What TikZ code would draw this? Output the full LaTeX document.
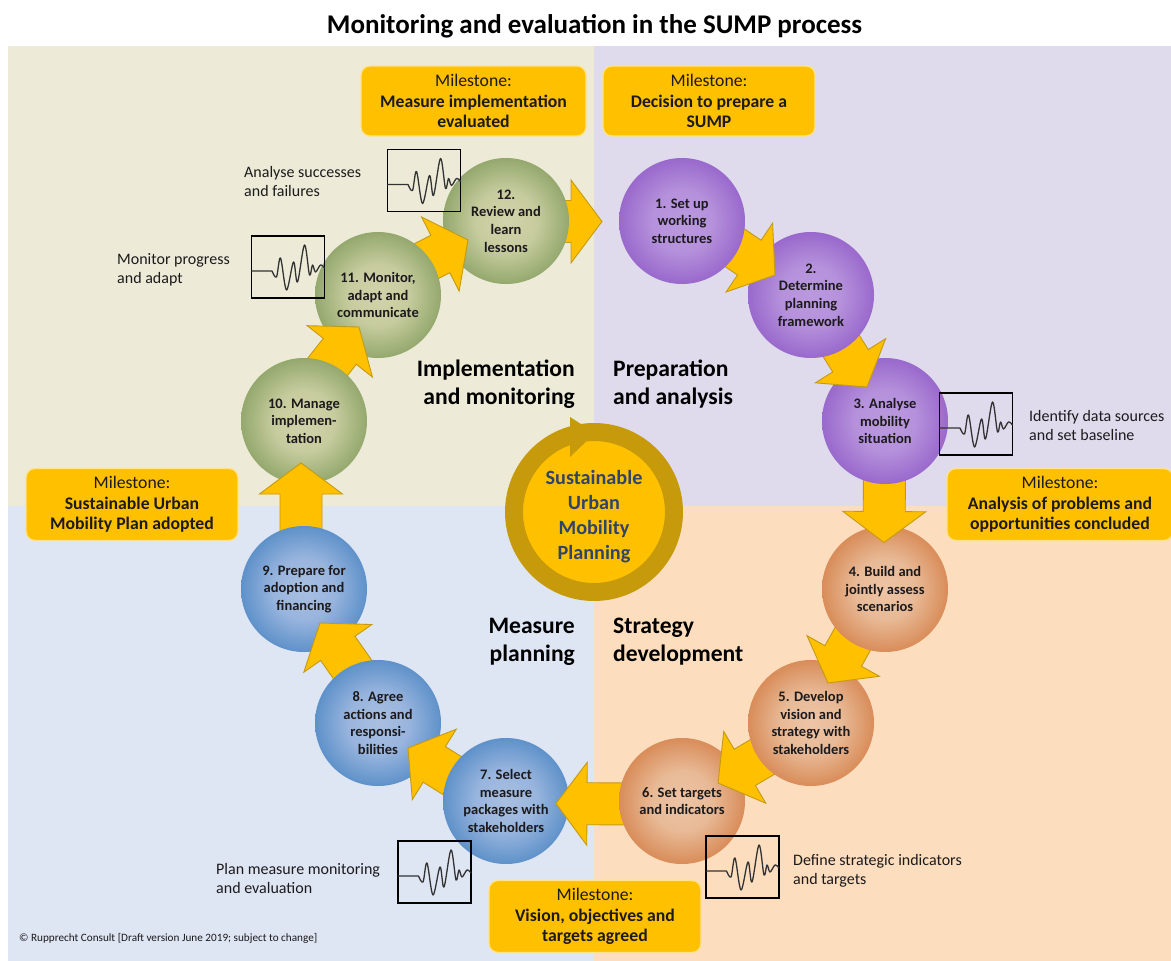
\documentclass[tikz,border=0pt]{standalone}
\usepackage{fontspec}
\setmainfont{Carlito}
\usetikzlibrary{calc}
\definecolor{qtl}{HTML}{EDEBD7}
\definecolor{qtr}{HTML}{DFDBEC}
\definecolor{qbl}{HTML}{DEE5F3}
\definecolor{qbr}{HTML}{FCDDBE}
\definecolor{gold}{HTML}{FFC000}
\definecolor{goldline}{HTML}{C49A12}
\definecolor{ringc}{HTML}{C79A0C}
\definecolor{mileline}{HTML}{FFE28C}
\definecolor{hubtext}{HTML}{2F4468}
\definecolor{ink}{HTML}{1C1A1C}
\pgfdeclareradialshading{purpleball}{\pgfpoint{0bp}{0bp}}{rgb(0bp)=(.73,.60,.87);rgb(12bp)=(.71,.57,.86);rgb(25bp)=(.60,.41,.80);rgb(50bp)=(.60,.41,.80)}
\pgfdeclareradialshading{greenball}{\pgfpoint{0bp}{0bp}}{rgb(0bp)=(.82,.83,.67);rgb(12bp)=(.78,.80,.62);rgb(25bp)=(.58,.66,.43);rgb(50bp)=(.58,.66,.43)}
\pgfdeclareradialshading{orangeball}{\pgfpoint{0bp}{0bp}}{rgb(0bp)=(.93,.77,.65);rgb(12bp)=(.91,.73,.59);rgb(25bp)=(.85,.55,.35);rgb(50bp)=(.85,.55,.35)}
\pgfdeclareradialshading{blueball}{\pgfpoint{0bp}{0bp}}{rgb(0bp)=(.66,.75,.88);rgb(12bp)=(.60,.71,.87);rgb(25bp)=(.37,.57,.79);rgb(50bp)=(.37,.57,.79)}
\tikzset{
  stepnode/.style={circle,minimum size=126pt,inner sep=0pt,align=center,text=ink,
    font=\fontsize{14.5}{17.6}\selectfont\bfseries},
  milestone/.style={rectangle,rounded corners=9pt,fill=gold,draw=mileline,line width=1.3pt,
    minimum height=70pt,inner sep=0pt,align=center,text=ink,font=\fontsize{17.7}{20.5}\selectfont},
  phase/.style={inner sep=0pt,text=black,font=\fontsize{23.6}{28}\selectfont\bfseries},
  note/.style={inner sep=0pt,anchor=west,align=left,text=ink,font=\fontsize{16}{19}\selectfont},
  monbox/.style={rectangle,draw=black,line width=1.1pt,minimum width=73pt,minimum height=62pt,inner sep=0pt},
  blockshape/.style={fill=gold,draw=goldline,line width=.9pt,line join=miter},
  wave/.pic={\draw[line width=1.3pt,draw=black!80,line cap=round,line join=round]
     (-36.5,4) -- (-16,4) plot[smooth,tension=.55] coordinates{(-16,4) (-11.5,10) (-7.5,-9) (-1.5,23) (5.5,-5) (9.5,15) (16.5,-22) (21.5,8) (24.5,-2) (27.5,5) (32.5,-2) (36.5,1)};}
}
\newcommand{\blockarrow}[4]{%
  \coordinate (ta) at ($(#1)+(#2)$);
  \coordinate (tb) at ($(#3)+(#4)$);
  \coordinate (tc) at ($(tb)!31pt!(ta)$);
  \draw[blockshape] ($(ta)!21pt!90:(tb)$) -- ($(tc)!21pt!90:(tb)$) -- ($(tc)!41.5pt!90:(tb)$) -- (tb)
     -- ($(tc)!41.5pt!-90:(tb)$) -- ($(tc)!21pt!-90:(tb)$) -- ($(ta)!21pt!-90:(tb)$) -- cycle;}
\begin{document}
\begin{tikzpicture}[x=1pt,y=-1pt]
\useasboundingbox (0,0) rectangle (1171,961);
\fill[white] (0,0) rectangle (1171,961);
% quadrants
\fill[qtl] (8,46) rectangle (594,506);
\fill[qtr] (594,46) rectangle (1171,506);
\fill[qbl] (8,506) rectangle (594,961);
\fill[qbr] (594,506) rectangle (1171,961);
\node[inner sep=0pt,font=\fontsize{27}{30}\selectfont\bfseries,text=black] (title) at (594.5,26) {Monitoring and evaluation in the SUMP process};
% milestones
\node[milestone,minimum width=225pt] (m1) at (473.5,101) {Milestone:\\\textbf{Measure implementation}\\\textbf{evaluated}};
\node[milestone,minimum width=212pt] (m2) at (709,101) {Milestone:\\\textbf{Decision to prepare a}\\\textbf{SUMP}};
\node[milestone,minimum width=226pt,minimum height=72pt] (m3) at (1060,504.5) {Milestone:\\\textbf{Analysis of problems and}\\\textbf{opportunities concluded}};
\node[milestone,minimum width=212pt,minimum height=72pt] (m4) at (595,916.5) {Milestone:\\\textbf{Vision, objectives and}\\\textbf{targets agreed}};
\node[milestone,minimum width=212pt,minimum height=72pt] (m5) at (132,504.5) {Milestone:\\\textbf{Sustainable Urban}\\\textbf{Mobility Plan adopted}};
% phase labels
\node[phase,anchor=east,align=right] (ph1) at (575,384) {Implementation\\and monitoring};
\node[phase,anchor=west,align=left] (ph2) at (613,384) {Preparation\\and analysis};
\node[phase,anchor=east,align=right] (ph3) at (575,642) {Measure\\planning};
\node[phase,anchor=west,align=left] (ph4) at (613,642) {Strategy\\development};
% hub
\node[circle,fill=gold,draw=ringc,line width=18pt,minimum size=160pt,inner sep=0pt] (hub) at (594,512) {};
\fill[ringc] (570,417) -- (595,433) -- (570,457) -- cycle;
\node[inner sep=0pt,align=center,text=hubtext,font=\fontsize{20.2}{25}\selectfont\bfseries] (hubtext) at (594,517) {Sustainable\\Urban\\Mobility\\Planning};
% step positions
\coordinate (s1) at (682,221);
\coordinate (s2) at (811,295);
\coordinate (s3) at (885,421);
\coordinate (s4) at (885,589);
\coordinate (s5) at (811,723);
\coordinate (s6) at (682,801);
\coordinate (s7) at (506,801);
\coordinate (s8) at (378,723);
\coordinate (s9) at (304,589);
\coordinate (s10) at (304,421);
\coordinate (s11) at (378,295);
\coordinate (s12) at (506,221);
% steps and arrows, stacked so that each arrow lies over its target and under its source
\blockarrow{s12}{34,0.5}{s1}{-80,0.5}
\node[stepnode,shading=greenball] (s12) at (s12) {12.\\Review and\\learn\\lessons};
\blockarrow{s11}{19,-19}{s12}{-38,19}
\node[stepnode,shading=greenball] (s11) at (s11) {11. Monitor,\\adapt and\\communicate};
\blockarrow{s10}{3,-28}{s11}{-19,32}
\node[stepnode,shading=greenball] (s10) at (s10) {10. Manage\\implemen-\\tation};
\blockarrow{s9}{-3,-49}{s10}{-3,42}
\node[stepnode,shading=blueball] (s9) at (s9) {9. Prepare for\\adoption and\\financing};
\blockarrow{s8}{-11,-33}{s9}{16,34}
\node[stepnode,shading=blueball] (s8) at (s8) {8. Agree\\actions and\\responsi-\\bilities};
\blockarrow{s7}{-27.5,-9}{s8}{30,25}
\node[stepnode,shading=blueball] (s7) at (s7) {7. Select\\measure\\packages with\\stakeholders};
\blockarrow{s6}{-52,3}{s7}{50,2.5}
\node[stepnode,shading=orangeball] (s6) at (s6) {6. Set targets\\and indicators};
\blockarrow{s5}{-23,19}{s6}{36,-18}
\node[stepnode,shading=orangeball] (s5) at (s5) {5. Develop\\vision and\\strategy with\\stakeholders};
\blockarrow{s4}{-16,21}{s5}{17,-40}
\node[stepnode,shading=orangeball] (s4) at (s4) {4. Build and\\jointly assess\\scenarios};
\blockarrow{s3}{-0.5,49}{s4}{-1,-46.5}
\node[stepnode,shading=purpleball] (s3) at (s3) {3. Analyse\\mobility\\situation};
\blockarrow{s2}{12,22}{s3}{-18,-34}
\node[stepnode,shading=purpleball] (s2) at (s2) {2.\\Determine\\planning\\framework};
\blockarrow{s1}{28,10}{s2}{-36,-20}
\node[stepnode,shading=purpleball] (s1) at (s1) {1. Set up\\working\\structures};
% monitoring boxes
\node[monbox] (b12) at (424,180.5) {};
\pic at (b12.center) {wave};
\node[monbox] (b11) at (288,267) {};
\pic at (b11.center) {wave};
\node[monbox] (b3) at (976,424) {};
\pic at (b3.center) {wave};
\node[monbox] (b6) at (742.5,867) {};
\pic at (b6.center) {wave};
\node[monbox] (b7) at (434.5,872) {};
\pic at (b7.center) {wave};
% notes
\node[note] (n12) at (244,182) {Analyse successes\\and failures};
\node[note] (n11) at (117,270) {Monitor progress\\and adapt};
\node[note] (n3) at (1029,425) {Identify data sources\\and set baseline};
\node[note] (n6) at (793,870.5) {Define strategic indicators\\and targets};
\node[note] (n7) at (216,878) {Plan measure monitoring\\and evaluation};
\node[inner sep=0pt,anchor=west,text=ink,font=\fontsize{11.2}{13}\selectfont] (copy) at (19,938) {© Rupprecht Consult [Draft version June 2019; subject to change]};
\end{tikzpicture}
\end{document}
